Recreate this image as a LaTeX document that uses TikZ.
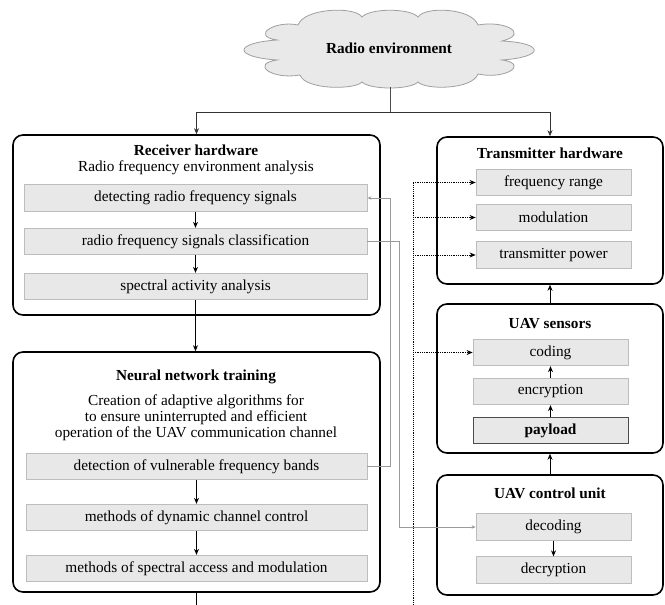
\documentclass[tikz,border=0pt]{standalone}
\usepackage{fontspec}
\setmainfont{Liberation Serif}
\usetikzlibrary{arrows.meta}
\definecolor{subfill}{HTML}{E8E8E8}
\definecolor{subline}{HTML}{BDBDBD}
\definecolor{cloudfill}{HTML}{E9E9E9}
\definecolor{linkgray}{HTML}{9A9A9A}
\begin{document}
\begin{tikzpicture}[x=1bp,y=-1bp,
  font=\fontsize{15.3bp}{16.2bp}\selectfont,
  bigbox/.style={draw=black,line width=1.6bp,rounded corners=10bp,inner sep=0pt},
  subbox/.style={draw=subline,fill=subfill,line width=0.8bp,inner sep=0pt,minimum height=26.5bp},
  ttl/.style={font=\fontsize{15.3bp}{16.2bp}\selectfont\bfseries},
  arr/.style={-{Stealth[length=6bp,width=5bp]},line width=0.8bp},
  garr/.style={draw=linkgray,line width=0.8bp,-{Stealth[length=4bp,width=3.5bp]}},
  darr/.style={densely dotted,line width=0.9bp},
  cloudline/.style={draw=gray!75,fill=cloudfill,line width=0.8bp},
]
\useasboundingbox (0,0) rectangle (665,605);

% cloud
\path[cloudline] (298,25)
  .. controls (304,8) and (355,6) .. (362,17)
  .. controls (370,8) and (410,8) .. (418,17)
  .. controls (425,6) and (472,8) .. (478,25)
  .. controls (505,20) and (530,34) .. (502,41)
  .. controls (545,43) and (545,57) .. (502,60)
  .. controls (530,64) and (505,80) .. (478,74)
  .. controls (472,90) and (425,90) .. (418,82)
  .. controls (410,90) and (370,90) .. (362,82)
  .. controls (355,90) and (305,90) .. (300,75)
  .. controls (272,80) and (250,64) .. (277,60)
  .. controls (233,57) and (233,43) .. (277,40)
  .. controls (250,36) and (275,20) .. (298,25) -- cycle;
\node[ttl] (cloud) at (389,48) {Radio environment};
\coordinate (cbot) at (390,87);
\coordinate (j) at (390,112);

% receiver hardware
\node[bigbox,minimum width=367bp,minimum height=180bp] (rx) at (196.5,225) {};
\node[ttl] (rxt) at (196,150) {Receiver hardware};
\node (rxs) at (196,168) {Radio frequency environment analysis};
\node[subbox,minimum width=343bp] (r1) at (195.5,198) {detecting radio frequency signals};
\node[subbox,minimum width=343bp] (r2) at (195.5,241.5) {radio frequency signals classification};
\node[subbox,minimum width=343bp] (r3) at (195.5,286.5) {spectral activity analysis};

% neural network training
\node[bigbox,minimum width=367bp,minimum height=240bp] (nn) at (196.5,472) {};
\node[ttl] (nnt) at (196,377) {Neural network training};
\node[align=center] (nns) at (196,418) {Creation of adaptive algorithms for\\to ensure uninterrupted and efficient\\operation of the UAV communication channel};
\node[subbox,minimum width=341bp] (n1) at (196.5,466.5) {detection of vulnerable frequency bands};
\node[subbox,minimum width=341bp] (n2) at (196.5,517.5) {methods of dynamic channel control};
\node[subbox,minimum width=341bp] (n3) at (196.5,568.5) {methods of spectral access and modulation};
\coordinate (nnend) at (196.5,605);

% transmitter hardware
\node[bigbox,minimum width=226bp,minimum height=147bp] (tx) at (550,210.5) {};
\node[ttl] (txt) at (550,153) {Transmitter hardware};
\node[subbox,minimum width=155bp] (t1) at (553.5,182.5) {frequency range};
\node[subbox,minimum width=155bp] (t2) at (553.5,217.5) {modulation};
\node[subbox,minimum width=155bp] (t3) at (553.5,255) {transmitter power};

% UAV sensors
\node[bigbox,minimum width=226bp,minimum height=149bp] (sens) at (550,378.5) {};
\node[ttl] (senst) at (550,324) {UAV sensors};
\node[subbox,minimum width=155bp] (s1) at (550.5,352.5) {coding};
\node[subbox,minimum width=155bp] (s2) at (550.5,391.5) {encryption};
\node[subbox,minimum width=155bp,draw=black!70] (s3) at (550.5,430.5) {\textbf{payload}};

% UAV control unit
\node[bigbox,minimum width=226bp,minimum height=120bp] (ctrl) at (550,535) {};
\node[ttl] (ctrlt) at (550,493) {UAV control unit};
\node[subbox,minimum width=155bp] (c1) at (553.5,527) {decoding};
\node[subbox,minimum width=155bp] (c2) at (553.5,570) {decryption};

% top connectors
\draw[line width=0.8bp,draw=black!70] (cbot) -- (j);
\draw[arr,draw=black!80] (j) -| (rx.north);
\draw[line width=0.8bp,draw=black!80] (j) -- (tx.north |- j);
\draw[arr,draw=black!80] (tx.north |- j) -- (tx.north);

% internal arrows
\draw[arr] (r1) -- (r2);
\draw[arr] (r2) -- (r3);
\draw[arr] (r3.south) -- (r3.south |- nn.north);
\draw[arr] (n1) -- (n2);
\draw[arr] (n2) -- (n3);
\draw[line width=0.8bp] (nn.south) -- (nnend);
\draw[arr] (s3) -- (s2);
\draw[arr] (s2) -- (s1);
\draw[arr] (c1) -- (c2);
\draw[arr] (sens.north) -- (tx.south);
\draw[arr] (ctrl.north) -- (sens.south);

% dotted bus
\coordinate (dtop) at (413,182.5);
\coordinate (dbot) at (413,605);
\draw[darr] (dbot) -- (dtop);
\draw[darr,arr,densely dotted] (dtop) -- (t1.west);
\draw[darr,arr,densely dotted] (dtop |- t2.west) -- (t2.west);
\draw[darr,arr,densely dotted] (dtop |- t3.west) -- (t3.west);
\draw[darr,arr,densely dotted] (dtop |- s1.west) -- (s1.west);

% gray links
\draw[garr] (n1.east) -- ++(23,0) |- (r1.east);
\draw[garr] (r2.east) -- ++(32,0) |- (c1.west);
\end{tikzpicture}
\end{document}
